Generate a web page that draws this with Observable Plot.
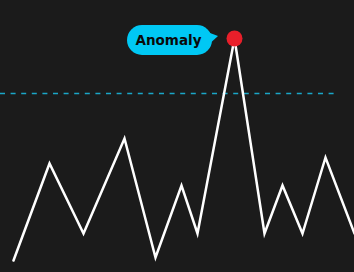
<!DOCTYPE html>
<html><head><meta charset="utf-8">
<script src="https://cdn.jsdelivr.net/npm/d3@7"></script>
<script src="https://cdn.jsdelivr.net/npm/@observablehq/plot@0.6"></script>
<style>html,body{margin:0;padding:0;background:#1b1b1b;overflow:hidden}</style>
</head><body><div id="chart"></div>
<script>
const times = [13, 49, 83, 124, 155, 181, 197, 234, 264, 282, 302, 325, 354];
const values = [12, 109, 39, 134, 15, 87, 39, 234, 39, 87, 39, 115, 39];
const threshold = 179;
const thresholdSpan = [0, 336];
const anomalyIndex = 7;
const anomalyLabel = "Anomaly";

const data = times.map((t, i) => ({t, v: values[i]}));
const anomaly = [data[anomalyIndex]];

const plot = Plot.plot({
  width: 354, height: 272,
  margin: 0,
  style: {background: "#1b1b1b", overflow: "visible"},
  x: {domain: [0, 354], axis: null},
  y: {domain: [0, 272], axis: null},
  marks: [
    Plot.ruleY([threshold], {x1: thresholdSpan[0], x2: thresholdSpan[1], stroke: "#1aa6c8", strokeWidth: 1.4, strokeDasharray: "5,5.6"}),
    Plot.line(data, {x: "t", y: "v", stroke: "#ffffff", strokeWidth: 2.5, strokeLinejoin: "miter", strokeMiterlimit: 10}),
    Plot.dot(anomaly, {x: "t", y: "v", r: 8, fill: "#e81f2a", stroke: "none"})
  ]
});
document.getElementById("chart").appendChild(plot);

(function () {
  const px = plot.scale("x").apply(anomaly[0].t);
  const py = plot.scale("y").apply(anomaly[0].v);
  const g = d3.select(plot).append("g");
  const bRight = px - 22, bLeft = px - 107, bTop = py - 13, bH = 30;
  g.append("path")
    .attr("d", `M${bRight - 10},${bTop + 5} L${px - 16},${py - 2} L${bRight - 6},${bTop + 22} Z`)
    .attr("fill", "#00c8f4");
  g.append("rect")
    .attr("x", bLeft).attr("y", bTop).attr("width", bRight - bLeft).attr("height", bH)
    .attr("rx", 15).attr("ry", 15).attr("fill", "#00c8f4");
  g.append("text")
    .attr("x", (bLeft + bRight) / 2 - 1).attr("y", bTop + bH / 2 + 1)
    .attr("text-anchor", "middle").attr("dominant-baseline", "middle")
    .attr("font-family", "'DejaVu Sans', sans-serif").attr("font-weight", 700)
    .attr("font-size", 13.5).attr("fill", "#0a0a0a")
    .text(anomalyLabel);
})();
</script>
</body></html>
